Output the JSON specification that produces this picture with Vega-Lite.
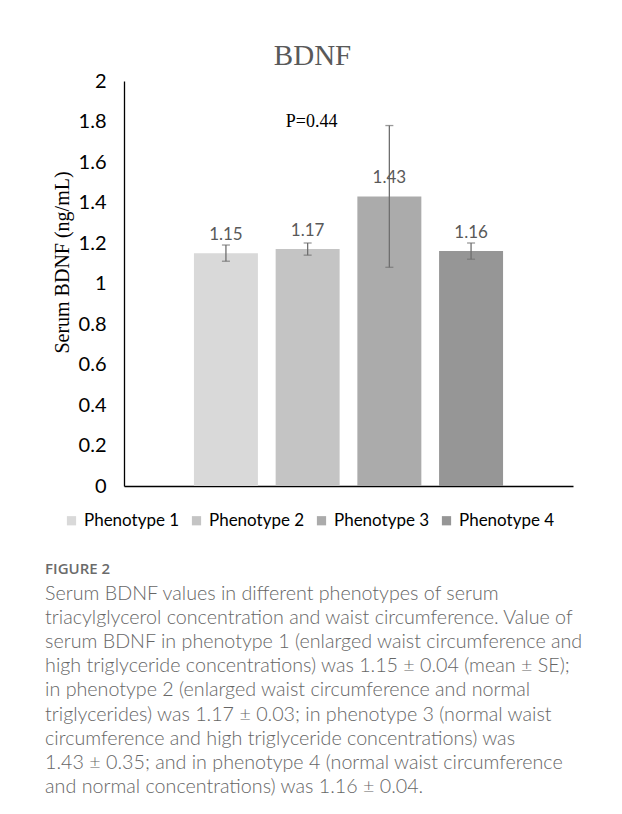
{
  "$schema": "https://vega.github.io/schema/vega-lite/v6.json",
  "padding": {"left": 45, "top": 42, "right": 40, "bottom": 18},
  "background": "white",
  "title": {
    "text": "FIGURE 2",
    "subtitle": [
      "Serum BDNF values in different phenotypes of serum",
      "triacylglycerol concentration and waist circumference. Value of",
      "serum BDNF in phenotype 1 (enlarged waist circumference and",
      "high triglyceride concentrations) was 1.15 ± 0.04 (mean ± SE);",
      "in phenotype 2 (enlarged waist circumference and normal",
      "triglycerides) was 1.17 ± 0.03; in phenotype 3 (normal waist",
      "circumference and high triglyceride concentrations) was",
      "1.43 ± 0.35; and in phenotype 4 (normal waist circumference",
      "and normal concentrations) was 1.16 ± 0.04."
    ],
    "orient": "bottom",
    "anchor": "start",
    "frame": "bounds",
    "dx": -7,
    "offset": 33,
    "font": "Open Sans",
    "fontSize": 15,
    "fontWeight": 600,
    "color": "#6b6b6b",
    "subtitleFont": "Lato",
    "subtitleFontSize": 19.7,
    "subtitleFontWeight": 300,
    "subtitleColor": "#666666",
    "subtitleLineHeight": 24.1,
    "subtitlePadding": 7
  },
  "vconcat": [
    {
      "title": {
        "text": "BDNF",
        "font": "Liberation Serif",
        "fontSize": 29,
        "fontWeight": "normal",
        "color": "#595959",
        "anchor": "middle",
        "frame": "bounds",
        "offset": 0
      },
      "width": 449,
      "height": 405,
      "data": {
        "values": [
          {"phenotype": "Phenotype 1", "mean": 1.15, "se": 0.04, "lo": 1.11, "hi": 1.19},
          {"phenotype": "Phenotype 2", "mean": 1.17, "se": 0.03, "lo": 1.14, "hi": 1.2},
          {"phenotype": "Phenotype 3", "mean": 1.43, "se": 0.35, "lo": 1.08, "hi": 1.78},
          {"phenotype": "Phenotype 4", "mean": 1.16, "se": 0.04, "lo": 1.12, "hi": 1.2}
        ]
      },
      "encoding": {
        "x": {
          "field": "phenotype",
          "type": "nominal",
          "scale": {"paddingInner": 0.217, "paddingOuter": 0.856},
          "axis": {"labels": false, "ticks": false, "title": null, "domainColor": "#000000", "domainWidth": 1.3}
        }
      },
      "layer": [
        {
          "mark": {"type": "bar"},
          "encoding": {
            "y": {
              "field": "mean",
              "type": "quantitative",
              "scale": {"domain": [0, 2], "nice": false},
              "axis": {
                "title": "Serum BDNF (ng/mL)",
                "titleFont": "Liberation Serif",
                "titleFontSize": 20,
                "titleFontWeight": "normal",
                "titleColor": "#000000",
                "titlePadding": 6,
                "titleY": 181,
                "values": [0, 0.2, 0.4, 0.6, 0.8, 1, 1.2, 1.4, 1.6, 1.8, 2],
                "format": ".1~f",
                "labelFont": "Lato",
                "labelFontSize": 20,
                "labelColor": "#000000",
                "labelPadding": 18,
                "ticks": false,
                "grid": false,
                "domainColor": "#000000",
                "domainWidth": 1.3
              }
            },
            "color": {
              "field": "phenotype",
              "type": "nominal",
              "scale": {"range": ["#d9d9d9", "#c4c4c4", "#ababab", "#969696"]},
              "legend": {
                "title": null,
                "orient": "none",
                "legendX": -61,
                "legendY": 431,
                "direction": "horizontal",
                "symbolType": "square",
                "symbolSize": 85,
                "symbolStrokeWidth": 0,
                "labelFont": "Lato",
                "labelFontSize": 17,
                "labelColor": "#000000",
                "columnPadding": 8,
                "labelOffset": 4
              }
            }
          }
        },
        {
          "mark": {"type": "rule", "color": "#6f6f6f", "strokeWidth": 1.3},
          "encoding": {
            "y": {"field": "lo", "type": "quantitative"},
            "y2": {"field": "hi"}
          }
        },
        {
          "mark": {"type": "tick", "color": "#6f6f6f", "size": 8, "thickness": 1.3},
          "encoding": {"y": {"field": "lo", "type": "quantitative"}}
        },
        {
          "mark": {"type": "tick", "color": "#6f6f6f", "size": 8, "thickness": 1.3},
          "encoding": {"y": {"field": "hi", "type": "quantitative"}}
        },
        {
          "mark": {"type": "text", "font": "Lato", "fontSize": 17, "color": "#595959", "baseline": "middle", "dy": -18},
          "encoding": {
            "y": {"field": "mean", "type": "quantitative"},
            "text": {"field": "mean", "type": "quantitative", "format": ".2f"}
          }
        },
        {
          "data": {"values": [{"phenotype": "Phenotype 2", "y": 1.8, "label": "P=0.44"}]},
          "mark": {"type": "text", "font": "Liberation Serif", "fontSize": 18, "color": "#000000", "baseline": "middle", "dx": 4},
          "encoding": {
            "y": {"field": "y", "type": "quantitative"},
            "text": {"field": "label"}
          }
        }
      ]
    }
  ],
  "config": {
    "view": {"stroke": null}
  }
}
